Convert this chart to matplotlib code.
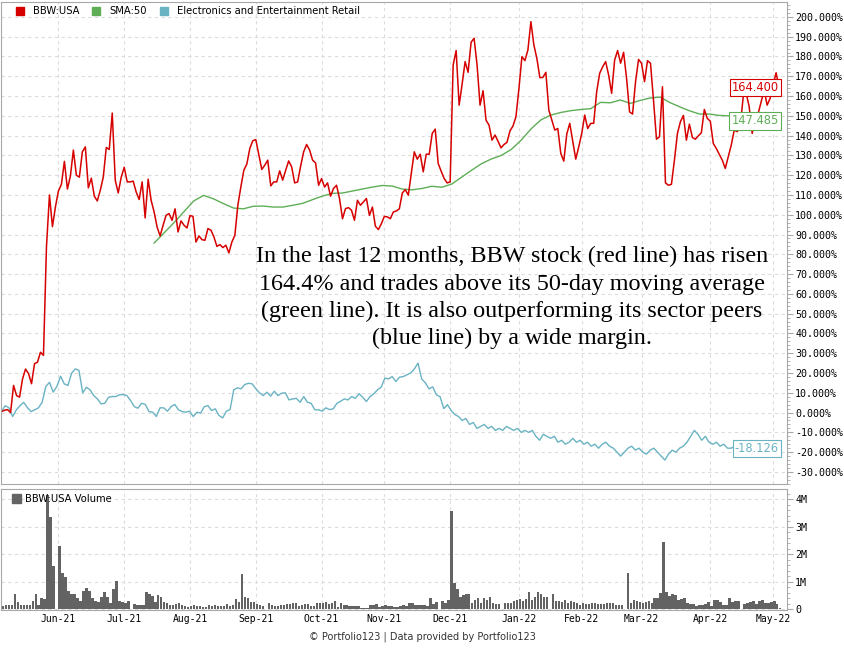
import matplotlib
matplotlib.use('Agg')
import matplotlib.pyplot as plt
from matplotlib.patches import Patch
from matplotlib.ticker import MultipleLocator, FuncFormatter, FixedLocator
import numpy as np
import pandas as pd

# weekday slots shown on the chart (holidays keep an empty slot)
dates = pd.bdate_range('2021-05-05', '2022-05-04')

# BBW:USA, % change since start, one value per weekday slot
bbw = [0.5, 1.2, 1.5, 0.0, 13.7, 8.6, 7.8, 17, 22, 19.7, 14.6, 24.7, 25.5, 30.5, 28.9,
       83.7, 110, 94, 104, 112, 115.4, 127, 113, 119.5, 132.7, 120, 119, 131.8, 134.3, 113.6,
       118.5, 109.4, 107, 112.4, 119, 134, 133, 151.4, 117.5, 111, 119, 124, 116.6, 116.6, 117,
       111.5, 107.7, 116.6, 98.4, 118, 107.3, 101.4, 93.8, 89.3, 94.7, 99.7, 100.6, 97.2, 103, 91.3,
       96.9, 94.7, 93.3, 99.6, 99.2, 86.2, 89.3, 87.4, 87.1, 93, 92.2, 88.8, 84, 84.9, 83.4,
       84.6, 80.7, 86.2, 89.6, 104.8, 114, 122.5, 125.6, 133.5, 137.4, 138, 130.5, 122.9, 125, 127.6,
       114.6, 116.6, 116.6, 122.2, 117.5, 122.5, 127.2, 124.2, 116.1, 116.6, 124.6, 131.8, 135.5, 132.7, 127.6,
       126.2, 114.9, 118.3, 114, 116.1, 109.4, 113.3, 114.9, 108.2, 98, 103.1, 103.6, 102.3, 97.2, 107.3,
       104.8, 106.5, 108.2, 99.7, 103.9, 94.2, 92.5, 95.5, 99.2, 98.9, 98, 101.4, 101.9, 103, 111,
       112.7, 109.9, 120.9, 131.8, 128.1, 130.6, 121.7, 130.6, 130.6, 141.1, 143.3, 125.9, 122, 118.3, 116.1,
       116.6, 175.7, 183, 155.4, 166, 177.4, 172, 187.2, 189.2, 175.7, 155.4, 162.7, 147.8, 145.3, 137.7,
       140.3, 137.2, 133.8, 135.5, 136.6, 142.4, 144.8, 149.5, 163.8, 179.9, 177.9, 183.3, 197.6, 185.8, 179,
       169.3, 169.4, 172, 152.9, 147.8, 142.8, 143.6, 131, 127.1, 140.8, 146.2, 137.2, 128.1, 134.3, 141.1,
       150.4, 143.6, 146.2, 146.2, 162.2, 171.5, 174.8, 177.4, 170.6, 161.4, 178.2, 183, 176.6, 182.1, 168.9,
       152, 150.9, 167.3, 178.5, 176.6, 167.3, 177.9, 176.6, 157.9, 138.2, 139.4, 164.7, 116.1, 114.9, 115.4,
       127.6, 141.1, 147, 150.2, 137.7, 145.8, 139.1, 138.2, 139.9, 141.4, 153.2, 148.7, 147.3, 136, 133.5,
       130.6, 127.6, 123.4, 129.3, 135.2, 142.8, 142, 144.4, 159.6, 161.4, 154.6, 141.1, 147.8, 151.2, 157,
       163, 155.4, 158.8, 165.6, 171.8, 164.4]

# SMA:50, sampled about every 3 weekdays from its first value to the last day
sma_start = '2021-07-15'
sma50 = [85.7, 90.8, 96, 101.5, 107, 109.8, 108, 105.6, 103.4, 103, 104.3, 104.4, 103.9, 103.9,
         104.8, 105.8, 107.7, 109.5, 110.8, 111, 112, 113, 114, 114.8, 114.5, 113, 112.6, 113.3,
         114.4, 113.9, 115.5, 119, 122.5, 125.8, 128.2, 130, 133, 137.7, 143.4, 148, 150.4, 151.7,
         152.6, 153.2, 153.6, 156.8, 156.6, 158, 156.3, 157.8, 159, 159.5, 156.7, 154.5, 152.5,
         150.9, 150.9, 150.2, 150, 149.2, 148.5, 148, 147.7, 147.485]

# Electronics and Entertainment Retail, evenly sampled over the whole period
sector = [0.7, 3.5, 2.4, -2, 1.4, 3.5, 5.2, 2.5, 0.5, 1.4, 2.4, 5.2, 13.2, 15.3, 10.3, 13.2,
          18.4, 14.5, 13.7, 19.9, 22.1, 21.3, 10, 12.8, 11.5, 8.6, 6.9, 4.4, 4.7, 7.7, 8.1, 8.1,
          9, 9.1, 8.6, 6.1, 3, 2.2, 4.7, 4.1, 0.5, 0.2, -2, 2.4, 2.4, 0.7, 3, 4.1, 1.4, 0.5, 0.2,
          0.7, -2, 0.2, -0.3, 3, 3.5, 1, 1.9, -1.5, -2.7, 0.7, 1.5, 11.5, 12.5, 12, 14.2, 14.8,
          14.5, 12, 10, 8.6, 10.3, 8.3, 10.8, 8.6, 9.8, 10, 6.4, 6.9, 7.2, 5.2, 8.1, 5.2, 4.7, 1.4,
          1.4, 0.7, 2.4, 1.5, 1.9, 4.7, 5.7, 6.9, 6.4, 8.1, 7.2, 9.5, 7.7, 5.6, 8.1, 9.5, 11.5,
          12.8, 17.4, 17, 18.2, 15.7, 17.9, 18.2, 19.1,
          20, 22, 25, 17, 15, 12, 13, 9, 8, 2, 4, 1, -1, -2, -4, -3, -6, -5, -8, -7,
          -6, -8, -7, -9, -8, -9, -7, -8, -9, -8, -10, -9, -10, -9, -12, -14, -11, -12, -13, -12,
          -15, -14, -16, -15, -13, -15, -14, -16, -15, -17, -16, -18, -16, -15, -17, -18, -20, -22, -20, -18,
          -17, -19, -18, -20, -21, -19, -18, -20, -22, -24, -21, -19, -20, -18, -17, -15, -12, -9, -11, -14,
          -12, -15, -16, -15, -17, -16, -18, -18, -17, -18, -19, -18, -19, -18, -19, -20, -22, -21, -19, -19,
          -18.126]

# BBW:USA volume in millions, one per weekday slot (0 = market holiday)
volume = [0.11, 0.15, 0.17, 0.15, 0.55, 0.27, 0.17, 0.17, 0.17, 0.17, 0.3, 0.55, 0.17, 0.41, 0.37, 4.17, 3.35, 1.57,
          0,
          2.3, 1.33, 1.18, 0.67, 0.57, 0.55, 0.39, 0.3, 0.66, 0.78, 0.67, 0.39, 0.3, 0.27, 0.45, 0.61, 0.43, 0.21,
          0.72, 1.04, 0.29, 0.27, 0.23, 0.29,
          0,
          0.18, 0.15, 0.17, 0.15, 0.61, 0.55, 0.48, 0.27, 0.51, 0.45, 0.27, 0.23, 0.15, 0.15, 0.18, 0.24, 0.15,
          0.12, 0.09, 0.12, 0.15, 0.11, 0.12, 0.09, 0.09, 0.15, 0.12, 0.17, 0.11, 0.12, 0.12, 0.18, 0.12, 0.17,
          0.37, 0.27, 1.27, 0.43, 0.39, 0.27, 0.27, 0.18, 0.15, 0.11,
          0,
          0.21, 0.17, 0.12, 0.12, 0.15, 0.15, 0.18, 0.18, 0.24, 0.21, 0.12, 0.17, 0.18, 0.18, 0.11, 0.11, 0.21,
          0.23, 0.21, 0.27, 0.18, 0.24, 0.29, 0.09, 0.21, 0.17, 0.15, 0.12, 0.12, 0.11, 0.11, 0.05, 0.05, 0.06,
          0.15, 0.17, 0.18, 0.09, 0.11, 0.15, 0.12, 0.11, 0.09, 0.09, 0.12, 0.17, 0.12, 0.21, 0.24, 0.17, 0.15,
          0.17, 0.17, 0.12, 0.41, 0.18, 0.27,
          0,
          0.29, 0.23, 0.35, 3.56, 0.96, 0.72, 0.45, 0.51, 0.54, 0.54, 0.24, 0.33, 0.39, 0.24, 0.39, 0.33, 0.43,
          0.21, 0.18, 0.18,
          0,
          0.21, 0.21, 0.24, 0.3, 0.33, 0.37, 0.3, 0.37, 0.63, 0.35, 0.45, 0.63, 0.57, 0.43, 0.45,
          0,
          0.55, 0.3, 0.3, 0.27, 0.35, 0.23, 0.3, 0.27, 0.21, 0.15, 0.21, 0.18, 0.18, 0.23, 0.21, 0.18, 0.18,
          0.18, 0.21, 0.21, 0.21, 0.15, 0.17, 0.17,
          0,
          1.3, 0.21, 0.33, 0.3, 0.27, 0.21, 0.27, 0.3, 0.24, 0.39, 0.39, 0.6, 2.43, 0.63, 0.48, 0.55, 0.51,
          0.33, 0.37, 0.39, 0.23, 0.2, 0.18, 0.11, 0.17, 0.15, 0.18, 0.27, 0.12, 0.35, 0.35, 0.27, 0.17, 0.17,
          0.41, 0.27, 0.3, 0.3,
          0,
          0.18, 0.23, 0.27, 0.3, 0.18, 0.29, 0.33, 0.21, 0.21, 0.27, 0.3, 0.18, 0.05]

month_starts = pd.date_range('2021-06-01', '2022-05-01', freq='MS')

RED = '#d60000'
GREEN = '#5eae56'
TEAL = '#6ab3c3'
GRID = '#dcdcdc'
FRAME = '#a8a8a8'
MONO = 'DejaVu Sans Mono'

n = len(dates)
idx = np.arange(n)
sma_x = np.linspace(dates.get_loc(pd.Timestamp(sma_start)), n - 1, len(sma50))
sector_x = np.linspace(0, n - 1, len(sector))
tick_pos = [int(dates.searchsorted(m)) for m in month_starts]
tick_lab = [m.strftime('%b-%y') for m in month_starts]

fig = plt.figure(figsize=(8.45, 6.5), dpi=100)
ax = fig.add_axes([0.0012, 0.2554, 0.9300, 0.7420])
axv = fig.add_axes([0.0012, 0.0615, 0.9300, 0.1857], sharex=ax)

for a in (ax, axv):
    for s in a.spines.values():
        s.set_color(FRAME)
    a.grid(True, color=GRID, linestyle=(0, (3, 3)), linewidth=0.8)
    a.set_axisbelow(True)
    a.yaxis.tick_right()
    a.tick_params(axis='y', which='major', length=4, color=FRAME, pad=2, labelsize=7.2)
    a.tick_params(axis='y', which='minor', length=2, color=FRAME)
    a.tick_params(axis='x', length=0)

ax.plot(sector_x, sector, color=TEAL, lw=1)
ax.plot(sma_x, sma50, color=GREEN, lw=1)
ax.plot(idx, bbw, color=RED, lw=1.1)

ax.set_xlim(-0.2, n + 1.6)
ax.set_ylim(-36.1, 207.7)
ax.yaxis.set_major_locator(MultipleLocator(10))
ax.yaxis.set_minor_locator(MultipleLocator(2))
ax.yaxis.set_major_formatter(FuncFormatter(lambda v, p: f'{v:.3f}%'))
ax.xaxis.set_major_locator(FixedLocator(tick_pos))
ax.tick_params(axis='x', labelbottom=False)
for t in ax.get_yticklabels():
    t.set_family(MONO)

# last-value tags
box = dict(boxstyle='square,pad=0.2', fc='white', lw=0.8)
for val, col, txt in [(bbw[-1], RED, f'{bbw[-1]:.3f}'),
                      (sma50[-1], GREEN, f'{sma50[-1]:.3f}'),
                      (sector[-1], TEAL, f'{sector[-1]:.3f}')]:
    ax.text(n - 1, val, txt, color=col, fontsize=8.3, ha='right', va='center',
            bbox=dict(box, ec=col), zorder=5)

ax.legend(handles=[Patch(color=RED, label='BBW:USA'),
                   Patch(color=GREEN, label='SMA:50'),
                   Patch(color=TEAL, label='Electronics and Entertainment Retail')],
          loc='upper left', bbox_to_anchor=(0.01, 1.005), ncol=3, frameon=False,
          fontsize=7.2, handlelength=0.8, handleheight=0.8, handletextpad=0.9,
          columnspacing=1.3, borderaxespad=0.3)

ax.text(0.650, 0.386,
        'In the last 12 months, BBW stock (red line) has risen\n'
        '164.4% and trades above its 50-day moving average\n'
        '(green line). It is also outperforming its sector peers\n'
        '(blue line) by a wide margin.',
        transform=ax.transAxes, ha='center', va='center', fontsize=17.4,
        family='Liberation Serif', linespacing=1.38)

axv.bar(idx, volume, width=0.8, align='edge', color='#636363')
axv.set_ylim(-0.03, 4.36)
axv.yaxis.set_major_locator(MultipleLocator(1))
axv.yaxis.set_minor_locator(MultipleLocator(0.2))
axv.yaxis.set_major_formatter(FuncFormatter(lambda v, p: '0' if v == 0 else f'{v:.0f}M'))
axv.set_xticks(tick_pos)
axv.set_xticklabels(tick_lab, family=MONO, fontsize=7)
axv.tick_params(axis='x', pad=3)
for t in axv.get_yticklabels():
    t.set_family(MONO)
axv.legend(handles=[Patch(color='#636363', label='BBW:USA Volume')], loc='upper left',
           bbox_to_anchor=(0.005, 1.02), frameon=False, fontsize=7.2, handlelength=0.9,
           handleheight=0.9, handletextpad=0.4, borderaxespad=0.3)

fig.text(0.5, 0.021, '\u00a9 Portfolio123 | Data provided by Portfolio123', ha='center',
         va='center', fontsize=7, color='#333333')

fig.savefig('out.png', dpi=100)
